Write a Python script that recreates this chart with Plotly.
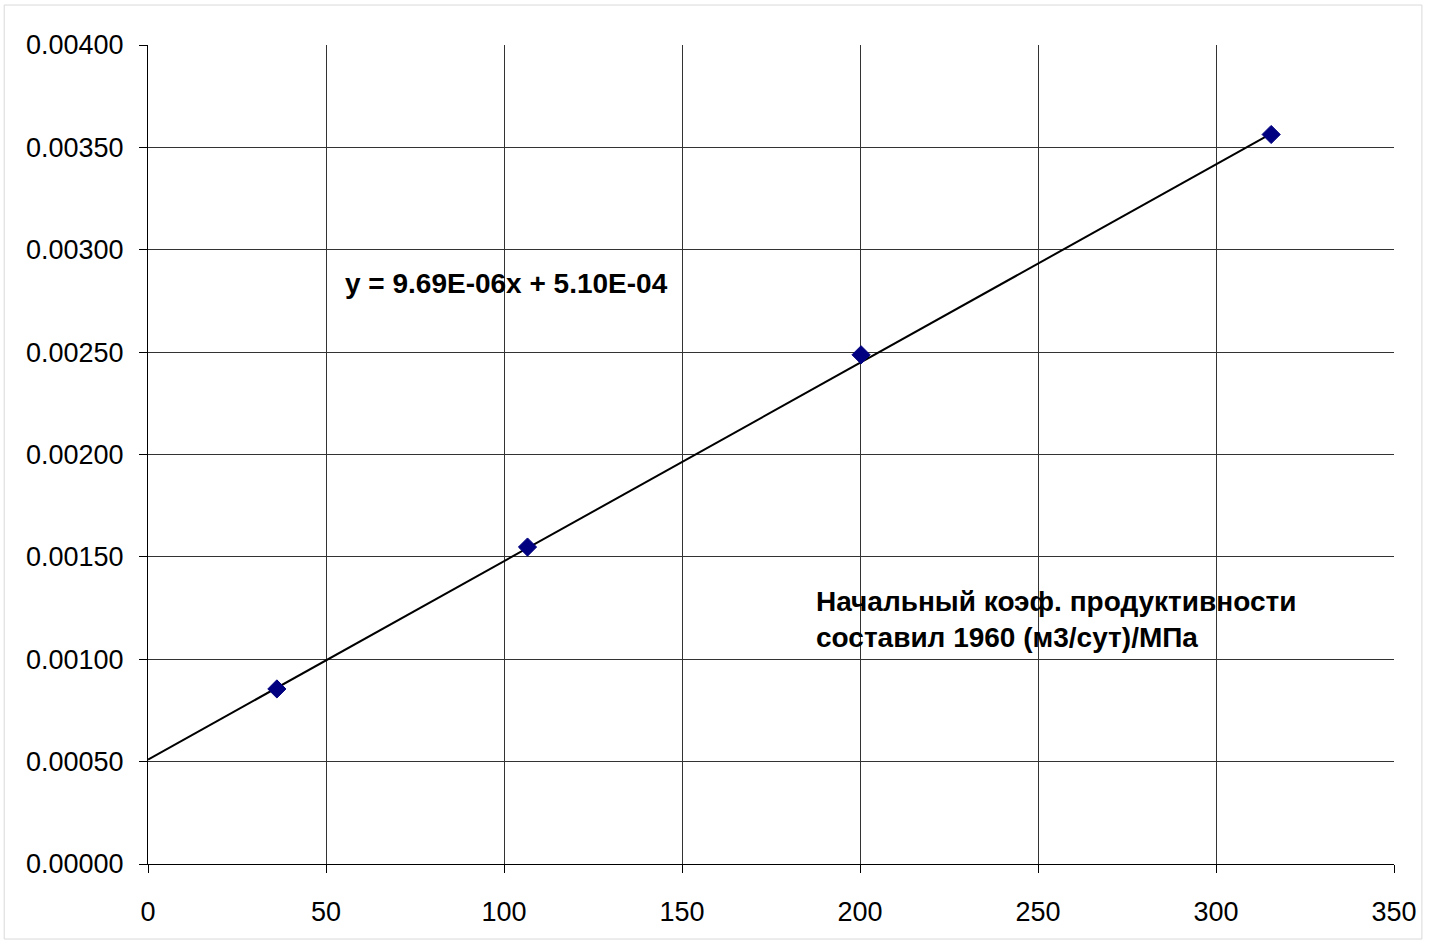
import plotly.graph_objects as go

# Data points
x_vals = [36.2, 106.6, 200.3, 315.5]
y_vals = [0.000855, 0.001548, 0.002487, 0.003563]

# Linear trendline endpoints (from equation y = 9.69E-06x + 5.10E-04)
trend_x = [0, 315.5]
trend_y = [0.000510, 0.003567]

x_ticks = [0, 50, 100, 150, 200, 250, 300, 350]
y_ticks = [0.0, 0.0005, 0.0010, 0.0015, 0.0020, 0.0025, 0.0030, 0.0035, 0.0040]

equation_text = "y = 9.69E-06x + 5.10E-04"
note_text = "Начальный коэф. продуктивности<br>составил 1960 (м3/сут)/МПа"

FONT = "Liberation Sans, Arial, sans-serif"

fig = go.Figure()
fig.add_trace(go.Scatter(
    x=trend_x, y=trend_y, mode="lines",
    line=dict(color="black", width=2), showlegend=False, hoverinfo="skip"))
fig.add_trace(go.Scatter(
    x=x_vals, y=y_vals, mode="markers",
    marker=dict(symbol="diamond", size=14, color="#000080",
                line=dict(color="#000080", width=1)),
    showlegend=False))

fig.update_layout(
    width=1429, height=941,
    margin=dict(l=148, r=33, t=45, b=77),
    paper_bgcolor="white", plot_bgcolor="white",
    font=dict(family=FONT, size=27, color="black"),
    xaxis=dict(range=[0, 350], tickvals=x_ticks,
               ticktext=[str(v) for v in x_ticks],
               showgrid=True, gridcolor="#333333", gridwidth=1,
               zeroline=False, showline=True, linecolor="black", linewidth=1,
               ticks="outside", ticklen=8, tickcolor="black",
               ticklabelstandoff=16,
               tickfont=dict(family=FONT, size=27, color="black")),
    yaxis=dict(range=[0, 0.004], tickvals=y_ticks,
               ticktext=["%.5f" % v for v in y_ticks],
               showgrid=True, gridcolor="#333333", gridwidth=1,
               zeroline=False, showline=True, linecolor="black", linewidth=1,
               ticks="outside", ticklen=8, tickcolor="black",
               ticklabelstandoff=10,
               tickfont=dict(family=FONT, size=27, color="black")),
    shapes=[dict(type="rect", xref="paper", yref="paper",
                 x0=-0.1154, x1=1.0224, y0=-0.0916, y1=1.0488,
                 line=dict(color="#d9d9d9", width=1), layer="below")],
    annotations=[
        dict(x=0.1563, y=0.7094, xref="paper", yref="paper",
             xanchor="left", yanchor="middle", showarrow=False,
             text="<b>" + equation_text + "</b>",
             font=dict(family=FONT, size=28, color="black")),
        dict(x=0.5345, y=0.298, xref="paper", yref="paper",
             xanchor="left", yanchor="middle", align="left", showarrow=False,
             text="<b>" + note_text + "</b>",
             font=dict(family=FONT, size=28, color="black")),
    ],
)

fig.write_html("out.html")
